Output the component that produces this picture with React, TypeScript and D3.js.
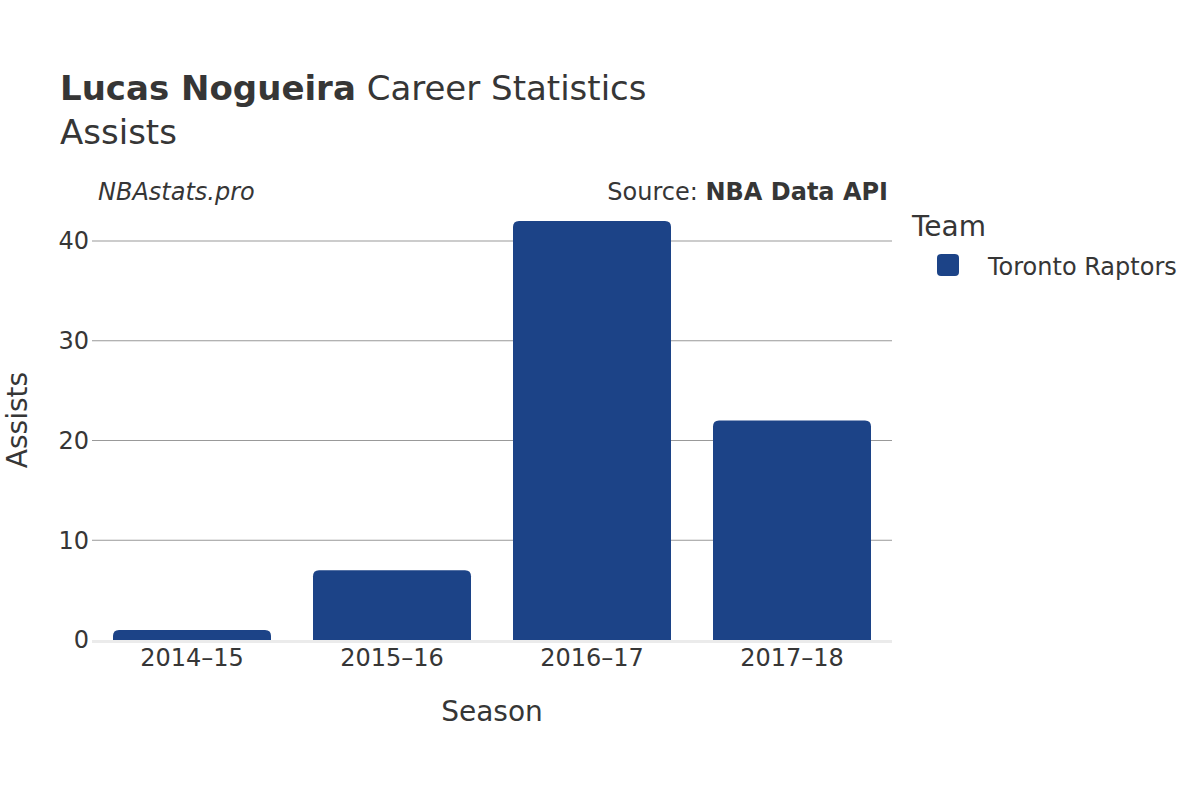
import React from "react";
import * as d3 from "d3";

const seasons = ["2014–15", "2015–16", "2016–17", "2017–18"];
const assists = [1, 7, 42, 22];
const yTicks = [0, 10, 20, 30, 40];
const teamName = "Toronto Raptors";
const barColor = "#1c4387";

const W = 1200, H = 800;
const left = 92, right = 892, bottom = 640;

export default function App() {
  const x = d3.scaleBand<string>().domain(seasons).range([left, right]).paddingInner(0.21).paddingOuter(0.105);
  const y = d3.scaleLinear().domain([0, 40]).range([bottom, 241]);
  const font = "DejaVu Sans, sans-serif";
  const txt = "#363636";
  const r = 6;
  const barPath = (x0: number, w: number, yTop: number, yBot: number) => {
    const rr = Math.min(r, (yBot - yTop));
    return `M${x0},${yBot} L${x0},${yTop + rr} Q${x0},${yTop} ${x0 + rr},${yTop} L${x0 + w - rr},${yTop} Q${x0 + w},${yTop} ${x0 + w},${yTop + rr} L${x0 + w},${yBot} Z`;
  };
  return (
    <svg width={W} height={H} style={{ display: "block", position: "absolute", left: 0, top: 0 }} fontFamily={font}>
      <rect width={W} height={H} fill="#fff" />
      <text x={60} y={100} fontSize={34} fill={txt}>
        <tspan fontWeight="bold">Lucas Nogueira</tspan> Career Statistics
      </text>
      <text x={60} y={144} fontSize={34} fill={txt}>Assists</text>
      <text x={98} y={200} fontSize={24} fontStyle="italic" fill={txt}>NBAstats.pro</text>
      <text x={888} y={200} fontSize={24} textAnchor="end" fill={txt}>
        Source: <tspan fontWeight="bold">NBA Data API</tspan>
      </text>
      {yTicks.filter(t => t > 0).map(t => (
        <line key={t} x1={left} x2={right} y1={y(t)} y2={y(t)} stroke="#999" strokeWidth={1} />
      ))}
      <line x1={left} x2={right} y1={bottom + 1.5} y2={bottom + 1.5} stroke="#ebebeb" strokeWidth={3} />
      {yTicks.map(t => (
        <text key={t} x={89} y={y(t)} dy="0.35em" fontSize={24} textAnchor="end" fill={txt}>{t}</text>
      ))}
      {seasons.map((s, i) => (
        <path key={s} d={barPath(x(s)!, x.bandwidth(), y(assists[i]), bottom)} fill={barColor} />
      ))}
      {seasons.map(s => (
        <text key={s} x={x(s)! + x.bandwidth() / 2} y={666} fontSize={24} textAnchor="middle" fill={txt}>{s}</text>
      ))}
      <text x={492} y={721} fontSize={28} textAnchor="middle" fill={txt}>Season</text>
      <text transform={`translate(27,420) rotate(-90)`} fontSize={28} textAnchor="middle" fill={txt}>Assists</text>
      <text x={912} y={236} fontSize={28} fill={txt}>Team</text>
      <rect x={937} y={254} width={22} height={22} rx={4} fill={barColor} />
      <text x={988} y={275} fontSize={24} fill={txt}>{teamName}</text>
    </svg>
  );
}
